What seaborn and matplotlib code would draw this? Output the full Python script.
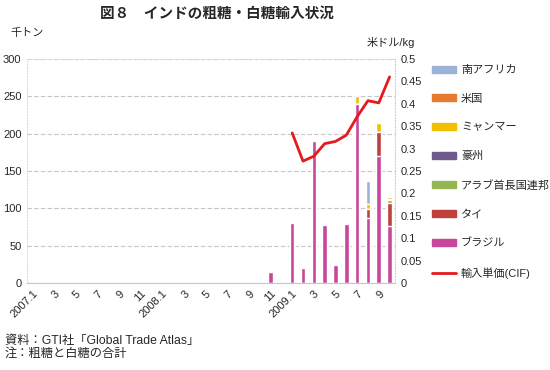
import numpy as np
import pandas as pd
import matplotlib
matplotlib.use('Agg')
import matplotlib.pyplot as plt
import matplotlib.patches as mpatches
import matplotlib.lines as mlines
import seaborn as sns

# months 2007.1 - 2009.10
months = [f'{y}.{m}' for y in (2007, 2008, 2009) for m in range(1, 13)][:34]
tick_labels = [m if m.endswith('.1') else m.split('.')[1] for m in months]

# imports (thousand tons), 2008.11 onward, earlier months are zero
brazil = [0] * 22 + [15, 0, 80, 20, 190, 78, 24, 79, 240, 87, 170, 77]
thai = [0] * 22 + [0, 0, 0, 0, 0, 0, 0, 0, 0, 12, 32, 30]
uae = [0] * 22 + [0, 0, 0, 0, 0, 0, 0, 0, 0, 0, 0, 4]
australia = [0] * 22 + [0, 0, 0, 0, 0, 0, 0, 0, 0, 0, 0, 2]
myanmar = [0] * 22 + [0, 0, 0, 0, 0, 0, 0, 0, 10, 7, 12, 2]
usa = [0] * 22 + [0, 0, 0, 0, 0, 0, 0, 0, 0, 0, 0, 1]
s_africa = [0] * 22 + [0, 0, 0, 0, 0, 0, 0, 0, 0, 31, 0, 0]

# unit price (USD/kg), 2009.1 - 2009.10
price_months = ['2009.1', '2009.2', '2009.3', '2009.4', '2009.5',
                '2009.6', '2009.7', '2009.8', '2009.9', '2009.10']
price = [0.335, 0.272, 0.283, 0.311, 0.316, 0.330, 0.371, 0.407, 0.402, 0.460]

series = [
    ('ブラジル', brazil, '#c8469c'),
    ('タイ', thai, '#c0413c'),
    ('アラブ首長国連邦', uae, '#93b552'),
    ('豪州', australia, '#6f5a8e'),
    ('ミャンマー', myanmar, '#f0c000'),
    ('米国', usa, '#e87a30'),
    ('南アフリカ', s_africa, '#9bb3d8'),
]

sns.set_style('white')
plt.rcParams['font.family'] = ['Liberation Sans', 'Noto Sans CJK JP']

fig = plt.figure(figsize=(5.5, 3.7), dpi=100)
ax = fig.add_axes([27 / 550, 1 - 283 / 370, 368 / 550, 224 / 370])

# stacked bars: draw cumulative totals from top layer down
cum = np.cumsum([np.array(s[1]) for s in series], axis=0)
for i in range(len(series) - 1, -1, -1):
    sns.barplot(x=months, y=cum[i], order=months, color=series[i][2],
                saturation=1, width=0.42, ax=ax, zorder=2)

ax.set_ylim(0, 300)
ax.set_yticks(range(0, 301, 50))
ax.set_xticks(range(0, 34, 2))
ax.set_xticklabels(tick_labels[::2], rotation=45, ha='right',
                   rotation_mode='anchor', fontsize=8)
ax.tick_params(axis='y', labelsize=8, length=0, pad=4)
ax.tick_params(axis='x', length=0, pad=4)
ax.set_xlabel('')
ax.set_ylabel('')
ax.yaxis.grid(True, ls=(0, (4, 2)), color='#c8c4c8', lw=0.8, zorder=0)
ax.set_axisbelow(True)
for side in ['left', 'top']:
    ax.spines[side].set_color('#e8dcc4')
    ax.spines[side].set_linestyle(':')
ax.spines['bottom'].set_color('#c8c8c8')
ax.spines['right'].set_color('#d0d0d0')
ax.spines['right'].set_linestyle(':')

ax2 = ax.twinx()
px = [months.index(m) for m in price_months]
sns.lineplot(x=px, y=price, color='#e41a1c', lw=2, ax=ax2)
ax2.set_ylim(0, 0.5)
yt = np.arange(0, 0.501, 0.05)
ax2.set_yticks(yt)
ax2.set_yticklabels([f'{v:g}' for v in yt])
ax2.tick_params(axis='y', labelsize=8, length=0, pad=4)
for s in ax2.spines.values():
    s.set_visible(False)
ax.set_xlim(-0.5, 33.5)

fig.text(0.395, 1 - 14 / 370, '図８　インドの粗糖・白糖輸入状況', ha='center',
         va='center', fontsize=10.5, fontweight='bold')
fig.text(10 / 550, 1 - 33 / 370, '千トン', ha='left', va='center', fontsize=8)
fig.text(367 / 550, 1 - 43 / 370, '米ドル/kg', ha='left', va='center', fontsize=8)
fig.text(5 / 550, 1 - 341 / 370, '資料：GTI社「Global Trade Atlas」', ha='left',
         va='center', fontsize=8.8)
fig.text(5 / 550, 1 - 354 / 370, '注：粗糖と白糖の合計', ha='left',
         va='center', fontsize=8.8)

handles = [mpatches.Patch(color=c, label=n) for n, _, c in series[::-1]]
handles.append(mlines.Line2D([], [], color='#e41a1c', lw=2, label='輸入単価(CIF)'))
fig.legend(handles=handles, loc='upper left',
           bbox_to_anchor=(432 / 550, 1 - 65 / 370), frameon=False,
           fontsize=8, labelspacing=1.68, handlelength=2.2, handleheight=0.6,
           handletextpad=0.4, borderpad=0, borderaxespad=0)

fig.savefig('out.png', dpi=100)
